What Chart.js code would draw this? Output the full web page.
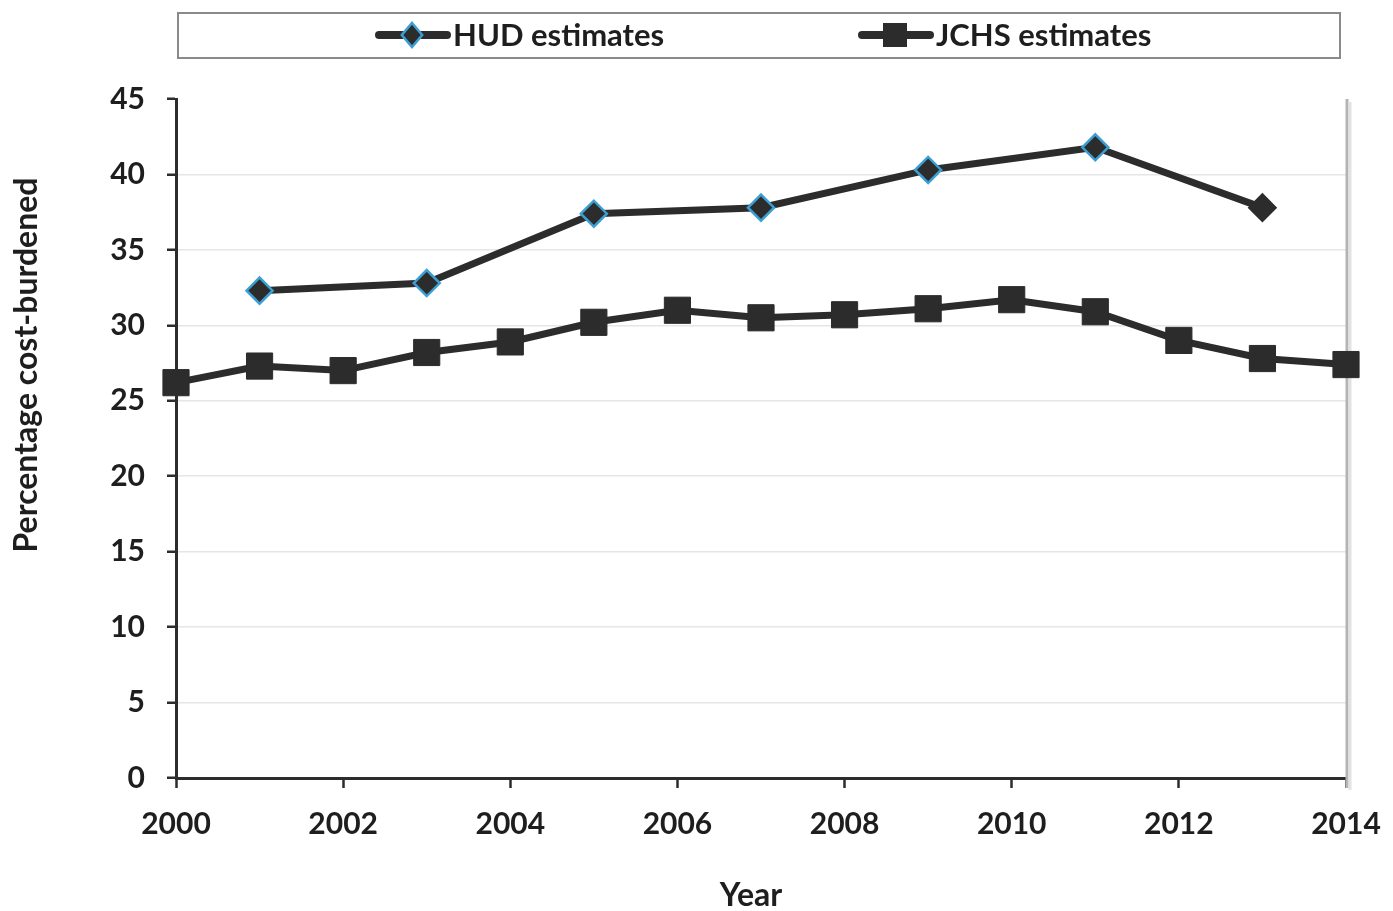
<!DOCTYPE html>
<html>
<head>
<meta charset="utf-8">
<title>Percentage cost-burdened, 2000–2014</title>
<script src="https://cdn.jsdelivr.net/npm/chart.js@4/dist/chart.umd.min.js"></script>
<style>
  html, body { margin: 0; padding: 0; background: #ffffff; }
  #wrap { width: 1393px; height: 911px; }
</style>
</head>
<body>
<div id="wrap"><canvas id="chart" width="1393" height="911"></canvas></div>
<script>
// Survey years on the horizontal axis
const years = [2000, 2001, 2002, 2003, 2004, 2005, 2006, 2007, 2008, 2009, 2010, 2011, 2012, 2013, 2014];

// HUD estimates are only available for odd years
const hudYears = [2001, 2003, 2005, 2007, 2009, 2011, 2013];
const hudValues = [32.3, 32.8, 37.4, 37.8, 40.3, 41.8, 37.8];

// JCHS estimates, one per year
const jchsValues = [26.2, 27.3, 27.0, 28.2, 28.9, 30.2, 31.0, 30.5, 30.7, 31.1, 31.7, 30.9, 29.0, 27.8, 27.4];

// Axis settings
const yMin = 0, yMax = 45, yStep = 5;
const xStep = 2;

const seriesLabels = ['HUD estimates', 'JCHS estimates'];
const xTitle = 'Year';
const yTitle = 'Percentage cost-burdened';

const INK = '#2c2c2c';
const TEXT = '#1e1e1e';
const BLUE = '#3c9fd3';
const FONT = 'Lato, "Open Sans", "DejaVu Sans", sans-serif';

const hudPoints = hudYears.map((y, i) => ({ x: y, y: hudValues[i] }));
const jchsPoints = years.map((y, i) => ({ x: y, y: jchsValues[i] }));

// Legend drawn inside a bordered strip above the plot
const boxedLegend = {
  id: 'boxedLegend',
  afterDraw(chart) {
    const ctx = chart.ctx;
    ctx.save();
    ctx.strokeStyle = '#8a8a8a';
    ctx.lineWidth = 2;
    ctx.strokeRect(178, 13, 1162, 45);

    const cy = 35;
    const starts = [375, 858];
    chart.data.datasets.forEach((ds, i) => {
      const sx = starts[i];
      ctx.strokeStyle = INK;
      ctx.lineWidth = 8;
      ctx.lineCap = 'round';
      ctx.beginPath();
      ctx.moveTo(sx + 4, cy);
      ctx.lineTo(sx + 72, cy);
      ctx.stroke();
      const mx = sx + 37;
      if (ds.pointStyle === 'rectRot') {
        const r = 12;
        ctx.beginPath();
        ctx.moveTo(mx, cy - r);
        ctx.lineTo(mx + r * 0.85, cy);
        ctx.lineTo(mx, cy + r);
        ctx.lineTo(mx - r * 0.85, cy);
        ctx.closePath();
        ctx.fillStyle = INK;
        ctx.fill();
        ctx.strokeStyle = BLUE;
        ctx.lineWidth = 2.5;
        ctx.stroke();
      } else {
        const h = 12;
        ctx.fillStyle = INK;
        ctx.fillRect(mx - h, cy - h, 2 * h, 2 * h);
      }
      ctx.fillStyle = TEXT;
      ctx.font = 'bold 31px ' + FONT;
      ctx.textBaseline = 'middle';
      ctx.textAlign = 'left';
      ctx.fillText(ds.label, sx + 78, cy + 1);
    });
    ctx.restore();
  }
};

// Axis titles placed to the left of and below the plot
const axisTitles = {
  id: 'axisTitles',
  afterDraw(chart) {
    const ctx = chart.ctx;
    ctx.save();
    ctx.fillStyle = TEXT;
    ctx.font = 'bold 32px ' + FONT;
    ctx.textAlign = 'center';
    ctx.textBaseline = 'middle';
    ctx.fillText(xTitle, 751, 896);
    ctx.translate(27, 365);
    ctx.rotate(-Math.PI / 2);
    ctx.fillText(yTitle, 0, 0);
    ctx.restore();
  }
};

// Grey frame edge on the right side of the plot
const rightEdge = {
  id: 'rightEdge',
  beforeDatasetsDraw(chart) {
    const { ctx, chartArea } = chart;
    ctx.save();
    ctx.strokeStyle = '#b4b4b4';
    ctx.lineWidth = 3;
    ctx.beginPath();
    ctx.moveTo(chartArea.right + 1, chartArea.top);
    ctx.lineTo(chartArea.right + 1, chartArea.bottom + 10);
    ctx.stroke();
    ctx.strokeStyle = '#e2e2e2';
    ctx.lineWidth = 3;
    ctx.beginPath();
    ctx.moveTo(chartArea.right + 4, chartArea.top + 3);
    ctx.lineTo(chartArea.right + 4, chartArea.bottom + 12);
    ctx.stroke();
    ctx.restore();
  }
};

new Chart(document.getElementById('chart'), {
  type: 'line',
  data: {
    datasets: [
      {
        label: seriesLabels[0],
        data: hudPoints,
        borderColor: INK,
        borderWidth: 7,
        pointStyle: 'rectRot',
        pointRadius: 13,
        pointHoverRadius: 13,
        pointBackgroundColor: INK,
        pointBorderColor: (c) => (c.dataIndex === hudValues.length - 1 ? INK : BLUE),
        pointBorderWidth: 2.5,
        tension: 0,
        clip: false
      },
      {
        label: seriesLabels[1],
        data: jchsPoints,
        borderColor: INK,
        borderWidth: 7,
        pointStyle: 'rect',
        pointRadius: 18.5,
        pointHoverRadius: 18.5,
        pointBackgroundColor: INK,
        pointBorderColor: INK,
        pointBorderWidth: 1,
        tension: 0,
        clip: false
      }
    ]
  },
  options: {
    responsive: false,
    animation: false,
    events: [],
    layout: { padding: { top: 99, right: 47, bottom: 0, left: 0 } },
    plugins: {
      legend: { display: false },
      tooltip: { enabled: false }
    },
    scales: {
      x: {
        type: 'linear',
        min: years[0],
        max: years[years.length - 1],
        afterFit(scale) {
          scale.height = 133;
          scale.paddingLeft = 0;
          scale.paddingRight = 0;
        },
        ticks: {
          stepSize: xStep,
          padding: 18,
          color: TEXT,
          font: { family: FONT, size: 30, weight: 'bold' },
          callback: (v) => String(v),
          maxRotation: 0
        },
        grid: {
          drawOnChartArea: false,
          drawTicks: true,
          tickLength: 10,
          tickColor: INK,
          tickWidth: 2.5
        },
        border: { display: true, color: INK, width: 3 },
        title: { display: false }
      },
      y: {
        min: yMin,
        max: yMax,
        afterFit(scale) { scale.width = 176; },
        ticks: {
          stepSize: yStep,
          padding: 22,
          color: TEXT,
          font: { family: FONT, size: 30, weight: 'bold' }
        },
        grid: {
          color: (c) => (c.tick && (c.tick.value === yMin || c.tick.value === yMax) ? 'rgba(0,0,0,0)' : '#e6e6e6'),
          lineWidth: 1.5,
          drawTicks: true,
          tickLength: 9,
          tickColor: INK,
          tickWidth: 2.5
        },
        border: { display: true, color: INK, width: 3 },
        title: { display: false }
      }
    }
  },
  plugins: [rightEdge, axisTitles, boxedLegend]
});
</script>
</body>
</html>
